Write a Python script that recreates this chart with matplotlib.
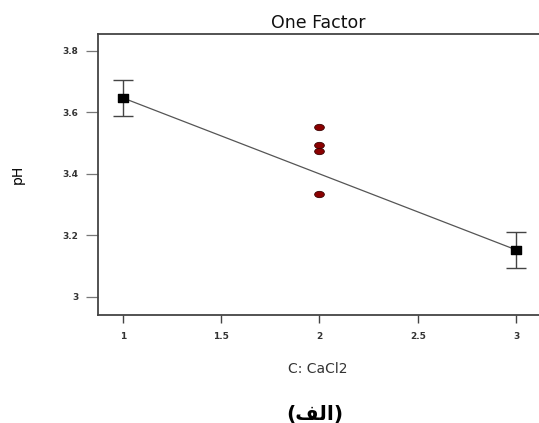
import numpy as np
import matplotlib
matplotlib.use("Agg")
import matplotlib.pyplot as plt
from matplotlib.path import Path
from matplotlib.markers import MarkerStyle

# ---- data ----
design_x = [1, 3]
design_ph = [3.647, 3.153]
design_err = [0.059, 0.059]
line_x = [1, 3]
line_ph = [3.647, 3.153]
obs_x = [2, 2, 2, 2]
obs_ph = [3.551, 3.493, 3.476, 3.336]
xticks = [1, 1.5, 2, 2.5, 3]
xtick_labels = ["1", "1.5", "2", "2.5", "3"]
yticks = [3.0, 3.2, 3.4, 3.6, 3.8]
ytick_labels = ["3", "3.2", "3.4", "3.6", "3.8"]

fig = plt.figure(figsize=(5.39, 4.23), dpi=100)
ax = fig.add_axes([98/539, 1 - 315/423, 1 - 98/539, (315 - 34)/423])

ax.plot(line_x, line_ph, color="#555555", lw=0.9, zorder=2)
ax.errorbar(design_x, design_ph, yerr=design_err, fmt="none", ecolor="#444444",
            elinewidth=1.0, capsize=7, capthick=1.0, zorder=3)
rect = Path([(-1, -0.75), (1, -0.75), (1, 0.75), (-1, 0.75), (-1, -0.75)],
            [Path.MOVETO, Path.LINETO, Path.LINETO, Path.LINETO, Path.CLOSEPOLY])
ax.plot(design_x, design_ph, linestyle="none", marker=MarkerStyle(rect), markersize=7,
        color="black", zorder=4)
circ = Path.unit_circle()
ell = Path(circ.vertices * np.array([1.0, 0.65]), circ.codes)
ax.plot(obs_x, obs_ph, linestyle="none", marker=MarkerStyle(ell), markersize=7,
        markerfacecolor="#8b0000", markeredgecolor="#3a0000", markeredgewidth=0.6, zorder=5)

ax.set_xlim(0.873, 3.117)
ax.set_ylim(2.941, 3.855)
ax.set_xticks(xticks)
ax.set_xticklabels(xtick_labels)
ax.set_yticks(yticks)
ax.set_yticklabels(ytick_labels)
for lab in ax.get_xticklabels() + ax.get_yticklabels():
    lab.set_fontsize(6.5)
    lab.set_fontweight("bold")
    lab.set_color("#333333")
ax.tick_params(axis="y", direction="out", length=9, width=0.9, color="#777777", pad=5)
ax.tick_params(axis="x", direction="out", length=6, width=1.0, color="#444444", pad=6)
ax.spines["right"].set_visible(False)
for s in ["top", "left", "bottom"]:
    ax.spines[s].set_color("#444444")
    ax.spines[s].set_linewidth(1.3)

fig.text(318/539, 1 - 23/423, "One Factor", fontsize=12.5, family="DejaVu Sans",
         ha="center", va="center", color="#111111")
fig.text(18/539, 1 - 174/423, "pH", rotation=90, fontsize=10, family="DejaVu Sans",
         ha="center", va="center")
fig.text(318/539, 1 - 369/423, "C: CaCl2", fontsize=10, family="DejaVu Sans",
         ha="center", va="center", color="#333333")
fig.text(315/539, 1 - 414/423, "(\uFED2\uFEDF\uFE8D)", fontsize=14.5, fontweight="bold",
         family="DejaVu Sans", ha="center", va="center")

fig.savefig("out.png", dpi=100)
